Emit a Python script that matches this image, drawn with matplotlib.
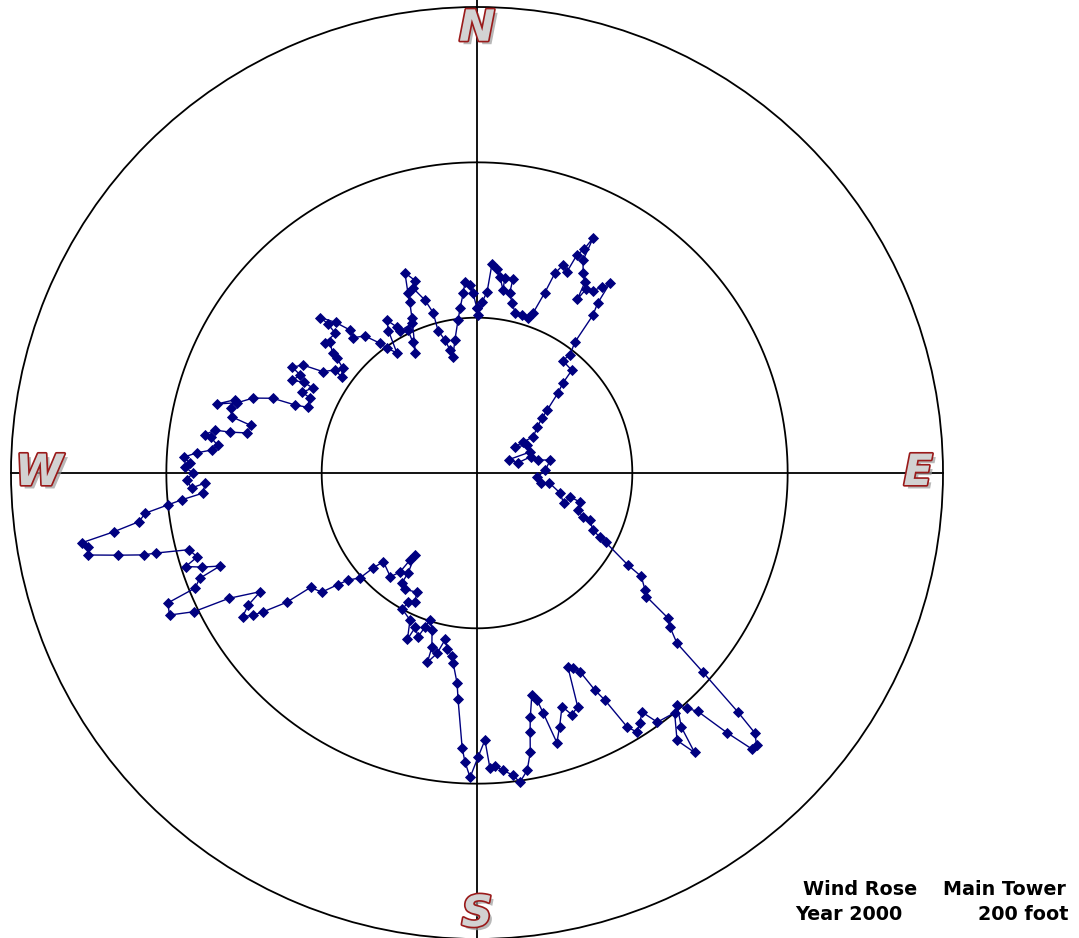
import numpy as np
import matplotlib
matplotlib.use('Agg')
import matplotlib.pyplot as plt
import matplotlib.patheffects as pe

# Wind direction (degrees from north, clockwise) and relative frequency
dirs = [0, 0.4, 1.7, 3.2, 4.1, 5.6, 6.7, 8.1, 8.1, 10.5,
        10.3, 11.6, 13.4, 15.9, 18.2, 19.3, 20.6, 21.3, 22.5, 24.1,
        24.6, 25.6, 26.3, 26.5, 27.9, 29.5, 30.0, 30.7, 32.4, 33.9,
        35.0, 35.4, 36.3, 36.8, 38.2, 37.3, 42.7, 43.7, 45.4, 48.0,
        49.8, 52.5, 57.3, 56.0, 55.6, 61.2, 68.4, 67.2, 76.0, 73.2,
        78.0, 79.9, 87.5, 93.8, 98.7, 97.8, 103.5, 109.2, 104.5, 105.7,
        110.3, 112.5, 112.6, 116.2, 117.5, 118.3, 121.4, 122.2, 124.9, 126.1,
        127.2, 128.6, 130.4, 131.4, 132.5, 133.1, 134.2, 135.1, 136.1, 137.2,
        138.3, 139.2, 141.2, 142.1, 143.2, 140.5, 144.1, 145.4, 146.9, 148.3,
        149.4, 150.6, 151.5, 152.6, 153.8, 154.9, 156.7, 158.6, 160.0, 162.0,
        163.5, 164.6, 165.2, 166.1, 167.7, 168.4, 169.2, 170.4, 172.1, 173.2,
        175.0, 176.5, 177.5, 178.3, 179.8, 181.3, 182.4, 183.1, 184.8, 185.4,
        187.2, 187.7, 189.6, 190.8, 192.5, 194.7, 194.5, 196.0, 197.7, 198.7,
        199.8, 201.8, 202.7, 204.5, 208.7, 208.1, 205.7, 206.8, 211.6, 214.3,
        214.6, 217.1, 217.6, 217.9, 219.9, 226.6, 227.6, 228.1, 230.3, 231.3,
        232.5, 235.5, 235.8, 237.0, 237.6, 238.5, 240.0, 241.3, 243.2, 243.9,
        245.2, 247.2, 247.8, 249.2, 250.1, 251.1, 252.2, 253.3, 255.1, 256.0,
        256.2, 257.1, 258.1, 259.3, 260.0, 260.8, 261.8, 263.1, 264.1, 264.8,
        265.8, 267.9, 267.0, 268.6, 270.0, 271.2, 272.0, 273.1, 274.1, 275.0,
        276.1, 277.7, 278.0, 279.3, 279.4, 279.9, 281.9, 282.9, 284.7, 286.8,
        284.9, 286.3, 288.5, 290.1, 290.5, 291.2, 294.2, 294.8, 297.4, 297.6,
        296.7, 299.0, 299.8, 301.8, 303.3, 305.9, 305.4, 308.1, 309.4, 309.8,
        311.7, 310.5, 314.6, 315.0, 314.8, 316.8, 318.4, 317.6, 320.7, 323.3,
        324.2, 326.3, 328.1, 329.5, 331.3, 331.7, 336.6, 334.2, 333.9, 332.9,
        337.2, 338.5, 339.0, 340.2, 342.2, 340.9, 343.3, 344.7, 344.7, 346.5,
        347.6, 348.2, 350.6, 352.9, 354.2, 355.6, 356.4, 357.9, 358.7]

freq = [1.06, 1.02, 1.10, 1.17, 1.35, 1.32, 1.27, 1.19, 1.27, 1.27,
        1.18, 1.12, 1.06, 1.06, 1.05, 1.09, 1.24, 1.38, 1.45, 1.42,
        1.54, 1.60, 1.69, 1.53, 1.46, 1.41, 1.29, 1.38, 1.39, 1.44,
        1.49, 1.34, 1.26, 1.05, 0.97, 0.91, 0.90, 0.80, 0.73, 0.61,
        0.55, 0.49, 0.43, 0.36, 0.30, 0.37, 0.37, 0.22, 0.27, 0.36,
        0.40, 0.48, 0.44, 0.39, 0.42, 0.47, 0.55, 0.59, 0.62, 0.69,
        0.69, 0.74, 0.79, 0.83, 0.89, 0.94, 1.14, 1.25, 1.32, 1.35,
        1.54, 1.59, 1.69, 1.94, 2.28, 2.45, 2.51, 2.51, 2.32, 2.09,
        2.03, 1.97, 2.10, 2.28, 2.15, 2.00, 1.98, 1.87, 1.92, 1.96,
        1.90, 1.68, 1.59, 1.44, 1.40, 1.38, 1.64, 1.67, 1.60, 1.72,
        1.81, 1.60, 1.51, 1.47, 1.61, 1.70, 1.83, 1.94, 2.01, 1.96,
        1.92, 1.89, 1.90, 1.72, 1.83, 1.96, 1.86, 1.77, 1.46, 1.36,
        1.23, 1.19, 1.15, 1.09, 1.19, 1.26, 1.16, 1.05, 0.99, 1.05,
        1.12, 1.07, 1.16, 1.04, 1.00, 0.94, 0.92, 0.86, 0.88, 0.86,
        0.78, 0.66, 0.71, 0.81, 0.87, 0.83, 0.91, 1.01, 1.08, 1.15,
        1.26, 1.30, 1.48, 1.64, 1.71, 1.77, 1.70, 1.59, 1.79, 2.03,
        2.18, 2.16, 1.96, 1.91, 1.76, 1.87, 1.97, 1.88, 1.92, 2.13,
        2.21, 2.37, 2.56, 2.55, 2.58, 2.37, 2.20, 2.15, 2.00, 1.91,
        1.77, 1.75, 1.84, 1.87, 1.83, 1.88, 1.85, 1.89, 1.81, 1.71,
        1.68, 1.73, 1.77, 1.71, 1.61, 1.50, 1.49, 1.62, 1.64, 1.63,
        1.73, 1.61, 1.52, 1.40, 1.25, 1.17, 1.18, 1.24, 1.19, 1.26,
        1.33, 1.30, 1.37, 1.32, 1.19, 1.13, 1.07, 1.10, 1.17, 1.21,
        1.27, 1.29, 1.28, 1.36, 1.42, 1.33, 1.23, 1.18, 1.14, 1.04,
        0.99, 0.93, 1.08, 1.14, 1.07, 1.04, 1.05, 1.02, 0.94, 0.87,
        1.08, 1.18, 1.24, 1.37, 1.30, 1.26, 1.16, 1.07, 0.95, 0.88,
        0.81, 0.76, 0.87, 0.99, 1.07, 1.16, 1.23, 1.21, 1.16]

rings = [1, 2, 3]
compass = ['N', 'E', 'S', 'W']
caption_left = ['Wind Rose', 'Year 2000']
caption_right = ['Main Tower', '200 foot']

fig = plt.figure(figsize=(10.79, 9.38), dpi=100)
ax = fig.add_axes([11 / 1079, -1 / 938, 932 / 1079, 932 / 938], projection='polar')
ax.set_theta_zero_location('N')
ax.set_theta_direction(-1)
ax.set_ylim(0, rings[-1])
ax.set_xticks([])
ax.set_yticks([])
ax.grid(False)
ax.spines['polar'].set_color('black')
ax.spines['polar'].set_linewidth(1.3)

# inner reference rings
full = np.linspace(0, 2 * np.pi, 721)
for r in rings[:-1]:
    ax.plot(full, np.full_like(full, r), color='black', lw=1.3, zorder=1)

# north-south / east-west cross (vertical one runs off the page)
for a, reach in zip([0, 90, 180, 270], [3.05, 3.0, 3.05, 3.0]):
    ax.plot([np.radians(a)] * 2, [0, reach], color='black', lw=1.3,
            clip_on=False, zorder=1)

# the rose itself, closed back onto the first direction
th = np.radians(dirs + dirs[:1])
rr = np.array(freq + freq[:1])
ax.plot(th, rr, color='#000080', lw=1, marker='D', markersize=5.2,
        markeredgewidth=0.6, zorder=3)

# compass letters
effects = [pe.SimplePatchShadow(offset=(2.5, -2.5), shadow_rgbFace='#9a9a9a', alpha=0.7),
           pe.Stroke(linewidth=2.4, foreground='#9a1a1a'), pe.Normal()]
for lab, a, r in zip(compass, [0, 90, 180, 270], [2.86, 2.84, 2.84, 2.82]):
    ax.text(np.radians(a), r, lab, ha='center', va='center', fontsize=31,
            fontweight='bold', fontstyle='italic', color='#d2d2d2',
            path_effects=effects, zorder=5, clip_on=False)

cap = dict(fontsize=13.8, fontweight='bold', va='center')
fig.text(803 / 1079, 1 - 889 / 938, caption_left[0], ha='left', **cap)
fig.text(795 / 1079, 1 - 914 / 938, caption_left[1], ha='left', **cap)
fig.text(1066 / 1079, 1 - 889 / 938, caption_right[0], ha='right', **cap)
fig.text(1068 / 1079, 1 - 914 / 938, caption_right[1], ha='right', **cap)

fig.savefig('out.png', dpi=100, facecolor='white')
